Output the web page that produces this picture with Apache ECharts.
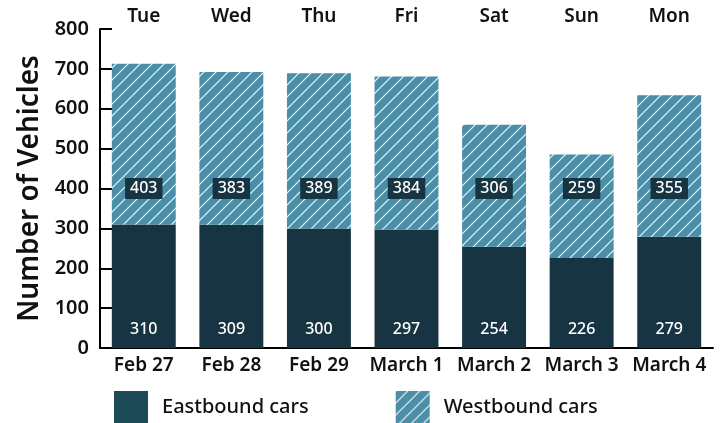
<!DOCTYPE html>
<html><head><meta charset="utf-8">
<script src="https://cdn.jsdelivr.net/npm/echarts@6/dist/echarts.min.js"></script>
<style>html,body{margin:0;padding:0;background:#fff}#c{width:726px;height:423px}</style>
</head><body><div id="c"></div>
<script>
const dates = ['Feb 27','Feb 28','Feb 29','March 1','March 2','March 3','March 4'];
const days = ['Tue','Wed','Thu','Fri','Sat','Sun','Mon'];
const eastbound = [310,309,300,297,254,226,279];
const westbound = [403,383,389,384,306,259,355];
const yTicks = [0,100,200,300,400,500,600,700,800];

const WEST_LABEL_Y = 400; // fixed label height in value units
const FONT = '"Noto Sans", "Open Sans", sans-serif';

function hatch() {
  const s = 12, c = document.createElement('canvas');
  c.width = s; c.height = s;
  const g = c.getContext('2d');
  g.fillStyle = '#4a8ea8'; g.fillRect(0,0,s,s);
  g.strokeStyle = 'rgba(255,255,255,0.9)'; g.lineWidth = 1.2;
  g.beginPath();
  g.moveTo(-2, s+2); g.lineTo(s+2, -2);
  g.moveTo(-2, 2); g.lineTo(2, -2);
  g.moveTo(s-2, s+2); g.lineTo(s+2, s-2);
  g.stroke();
  return c;
}
const pat = {image: hatch(), repeat: 'repeat'};

const chart = echarts.init(document.getElementById('c'));
chart.setOption({
  animation: false,
  grid: {left: 100, right: 13, top: 29, bottom: 75},
  legend: {
    left: 114, top: 391, padding: 0, itemWidth: 34, itemHeight: 32, itemGap: 87,
    icon: 'rect',
    textStyle: {fontFamily: FONT, fontSize: 20, fontWeight: 500, color: '#111', padding: [0,0,0,9]},
    data: [
      {name: 'Eastbound cars', itemStyle: {color: '#1c4a57'}},
      {name: 'Westbound cars'}
    ]
  },
  xAxis: [{
    type: 'category', data: dates, position: 'bottom',
    axisLine: {lineStyle: {color: '#000', width: 2}},
    axisTick: {inside: true, length: 5, lineStyle: {color: '#000', width: 1.5}},
    axisLabel: {interval: 0, fontFamily: FONT, fontSize: 19, fontWeight: 600, color: '#111', margin: 8}
  },{
    type: 'category', data: days, position: 'top',
    axisLine: {show: false}, axisTick: {show: false},
    axisLabel: {interval: 0, fontFamily: FONT, fontSize: 19, fontWeight: 600, color: '#111', margin: 3}
  }],
  yAxis: {
    type: 'value', min: yTicks[0], max: yTicks[yTicks.length-1], interval: 100,
    name: 'Number of Vehicles', nameLocation: 'middle', nameGap: 56,
    nameTextStyle: {fontFamily: FONT, fontSize: 28, fontWeight: 600, color: '#111'},
    axisLine: {show: true, lineStyle: {color: '#000', width: 2}},
    axisTick: {show: true, inside: true, length: 12, lineStyle: {color: '#000', width: 2}},
    splitLine: {show: false},
    axisLabel: {fontFamily: FONT, fontSize: 20, fontWeight: 600, color: '#111', margin: 11}
  },
  series: [{
    name: 'Eastbound cars', type: 'bar', stack: 'a', data: eastbound, barWidth: '73%',
    itemStyle: {color: '#163441'},
    label: {show: true, position: 'insideBottom', distance: 11, color: '#fff',
      fontFamily: FONT, fontSize: 16, fontWeight: 500}
  },{
    name: 'Westbound cars', type: 'bar', stack: 'a', data: westbound, barWidth: '73%',
    itemStyle: {color: pat}
  },{
    type: 'scatter', symbolSize: 0, silent: true, z: 5,
    itemStyle: {opacity: 1},
    data: westbound.map((v, i) => [i, WEST_LABEL_Y, v]),
    label: {show: true, position: 'inside', formatter: p => p.value[2], color: '#fff',
      backgroundColor: '#163441', padding: [3, 5, 2, 5],
      fontFamily: FONT, fontSize: 16, fontWeight: 500}
  }]
});
</script></body></html>
